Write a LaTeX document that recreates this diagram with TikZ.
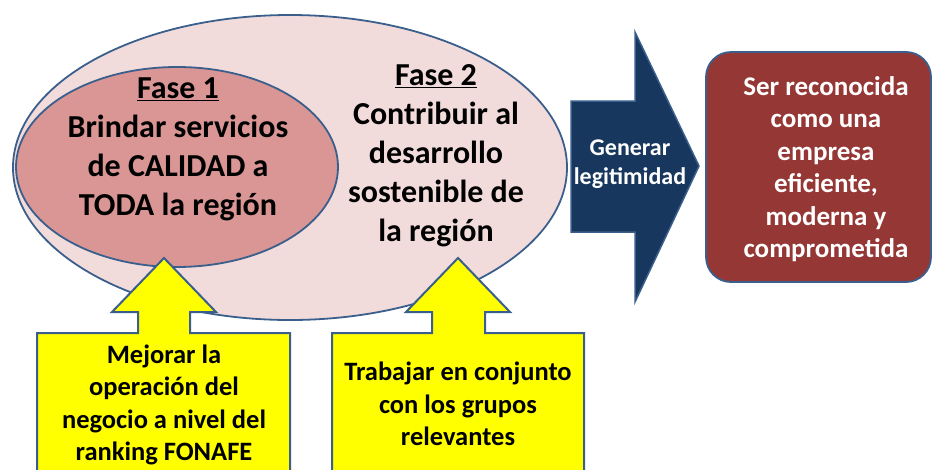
\documentclass[tikz,border=0pt]{standalone}
\usepackage{fontspec}
\setmainfont{Carlito}
\usetikzlibrary{shapes.geometric}
\definecolor{OuterPink}{HTML}{F2DCDB}
\definecolor{InnerRose}{HTML}{D99694}
\definecolor{EdgeBlue}{HTML}{3A5F8C}
\definecolor{DeepNavy}{HTML}{17375E}
\definecolor{BrickRed}{HTML}{953735}
\definecolor{CalloutYellow}{HTML}{FFFF00}

\begin{document}
\begin{tikzpicture}[x=1pt, y=-1pt,
  phase/.style={ellipse, draw=EdgeBlue, line width=1.8pt, inner sep=0pt},
  phasetext/.style={font=\bfseries\fontsize{32}{39}\selectfont, align=center},
  callout/.style={draw=EdgeBlue, line width=2pt, fill=CalloutYellow},
  callouttext/.style={font=\bfseries\fontsize{26.5}{32.5}\selectfont, align=center},
  goalbox/.style={draw=EdgeBlue, line width=1.8pt, fill=BrickRed, rounded corners=25pt,
    minimum width=225pt, minimum height=230pt},
  goaltext/.style={text=white, align=center, font=\bfseries\fontsize{27}{32.5}\selectfont}
]
\useasboundingbox (0,0) rectangle (932,469);

% the two phases
\node[phase, fill=OuterPink, minimum width=554pt, minimum height=305pt] (outer) at (290,167.5) {};
\node[phase, fill=InnerRose, minimum width=322pt, minimum height=200pt] (inner) at (177,167) {};

\node[phasetext] (fase1) at (178,149.5)
  {\underline{Fase 1}\\Brindar servicios\\de CALIDAD a\\TODA la región};
\node[phasetext] (fase2) at (436,155.5)
  {\underline{Fase 2}\\Contribuir al\\desarrollo\\sostenible de\\la región};

% yellow callouts pushing up
\draw[callout] (37,475) -- (37,333) -- (138,333) -- (138,312) -- (112,312) -- (164,258)
  -- (216,312) -- (190,312) -- (190,333) -- (290,333) -- (290,475) -- cycle;
\draw[callout] (332,475) -- (332,333) -- (432,333) -- (432,312) -- (406,312) -- (458,258)
  -- (510,312) -- (485,312) -- (485,333) -- (584,333) -- (584,475) -- cycle;

\node[callouttext] (mejorar) at (164,405)
  {Mejorar la\\operación del\\negocio a nivel del\\ranking FONAFE};
\node[callouttext] (trabajar) at (458,404)
  {Trabajar en conjunto\\con los grupos\\relevantes};

% big arrow towards the goal
\draw[draw=EdgeBlue, line width=1.5pt, fill=DeepNavy]
  (571,101) -- (635,101) -- (635,32) -- (699,166) -- (635,302) -- (635,232) -- (571,232) -- cycle;
\node[text=white, align=center, font=\bfseries\fontsize{24}{29}\selectfont] (legit) at (630,164)
  {Generar\\legitimidad};

\node[goalbox] (goal) at (818.5,167) {};
\node[goaltext] (goalmsg) at (826,169)
  {Ser reconocida\\como una\\empresa\\eficiente,\\moderna y\\comprometida};

\end{tikzpicture}
\end{document}
